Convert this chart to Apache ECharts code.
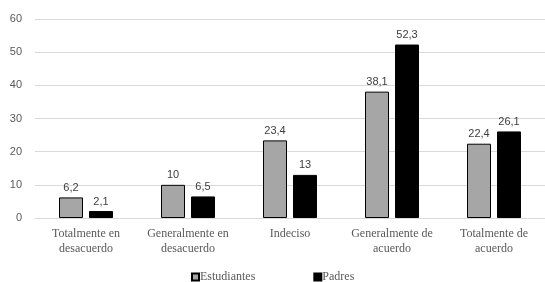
<!DOCTYPE html>
<html>
<head>
<meta charset="utf-8">
<script src="https://cdn.jsdelivr.net/npm/echarts@6/dist/echarts.min.js"></script>
<style>
  html, body { margin: 0; padding: 0; background: #fff; }
  #main { width: 545px; height: 282px; }
</style>
</head>
<body>
<div id="main"></div>
<script>
var categories = [
  "Totalmente en\ndesacuerdo",
  "Generalmente en\ndesacuerdo",
  "Indeciso",
  "Generalmente de\nacuerdo",
  "Totalmente de\nacuerdo"
];
var estudiantes = [6.2, 10, 23.4, 38.1, 22.4];
var padres = [2.1, 6.5, 13, 52.3, 26.1];
var seriesNames = ["Estudiantes", "Padres"];

var chart = echarts.init(document.getElementById("main"));

// etiqueta con coma decimal
function fmt(p) {
  return String(p.value).replace(".", ",");
}

var option = {
  animation: false,
  grid: { left: 35, top: 19, width: 522, height: 199 },
  legend: {
    top: 271,
    left: 191,
    padding: 0,
    itemWidth: 7,
    itemHeight: 7,
    itemGap: 58,
    icon: "rect",
    textStyle: { fontFamily: "Liberation Serif", fontSize: 12, color: "#595959", padding: [0, 0, 0, -4] },
    data: seriesNames
  },
  xAxis: {
    type: "category",
    data: categories,
    axisLine: { lineStyle: { color: "#d9d9d9" } },
    axisTick: { show: false },
    axisLabel: {
      fontFamily: "Liberation Serif",
      fontSize: 12,
      color: "#595959",
      lineHeight: 15,
      margin: 8,
      interval: 0
    }
  },
  yAxis: {
    type: "value",
    min: 0,
    max: 60,
    interval: 10,
    axisLine: { show: false },
    axisTick: { show: false },
    axisLabel: { fontFamily: "Liberation Sans", fontSize: 11, color: "#595959", margin: 13 },
    splitLine: { lineStyle: { color: "#d9d9d9", width: 1 } }
  },
  series: [
    {
      name: seriesNames[0],
      type: "bar",
      data: estudiantes,
      barWidth: 24,
      barGap: "25%",
      itemStyle: { color: "#a6a6a6", borderColor: "#000", borderWidth: 1 },
      label: { show: true, position: "top", formatter: fmt, fontFamily: "Liberation Sans", fontSize: 11, color: "#404040", distance: 4 }
    },
    {
      name: seriesNames[1],
      type: "bar",
      data: padres,
      barWidth: 24,
      itemStyle: { color: "#000", borderColor: "#000", borderWidth: 1 },
      label: { show: true, position: "top", formatter: fmt, fontFamily: "Liberation Sans", fontSize: 11, color: "#404040", distance: 4 }
    }
  ]
};

chart.setOption(option);
</script>
</body>
</html>
